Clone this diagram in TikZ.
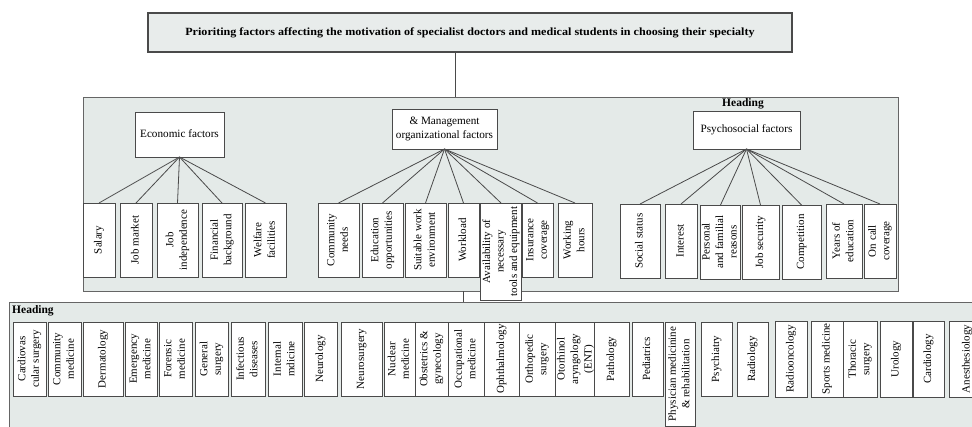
\documentclass[tikz,border=0pt]{standalone}
\usepackage{fontspec}
\setmainfont{Liberation Serif}
\usepackage{graphicx}
\definecolor{panelfill}{HTML}{E4EAE8}
\definecolor{titlefill}{HTML}{E8ECEB}
\definecolor{edgecol}{HTML}{4A4A4A}
\tikzset{
  box/.style={draw=edgecol, line width=0.9pt, fill=white, inner sep=0pt, outer sep=0pt, align=center, font=\fontsize{11}{13.5}\selectfont},
  parentbox/.style={box, font=\fontsize{11.2}{13.5}\selectfont},
  titlebox/.style={draw=edgecol, line width=1.2pt, fill=titlefill, inner sep=0pt, align=center, font=\bfseries\fontsize{11}{13}\selectfont},
  panel/.style={draw=edgecol!85, line width=0.8pt, fill=panelfill, inner sep=0pt},
  headtext/.style={inner sep=0pt, font=\bfseries\fontsize{11.5}{13}\selectfont},
  link/.style={draw=edgecol, line width=0.8pt},
}
\newcommand\lf[6]{\node[box, minimum width={(#3-#2)*1pt}, minimum height={(#5-#4)*1pt}] (#1) at ({(#2+#3)/2},{(#4+#5)/2}) {\rotatebox{90}{\begin{tabular}{@{}c@{}}#6\end{tabular}}};}
\newcommand\pb[6]{\node[parentbox, minimum width={(#3-#2)*1pt}, minimum height={(#5-#4)*1pt}] (#1) at ({(#2+#3)/2},{(#4+#5)/2}) {\begin{tabular}{@{}c@{}}#6\end{tabular}};}
\begin{document}
\begin{tikzpicture}[x=1pt,y=-1pt]
\clip (0,0) rectangle (972,427);
\fill[white] (0,0) rectangle (972,427);
% title
\node[titlebox, minimum width=644pt, minimum height=39pt] (title) at (470,32.5) {\scalebox{1.1}[1]{Prioriting factors affecting the motivation of specialist doctors and medical students in choosing their specialty}};
% panels
\node[panel, minimum width=815pt, minimum height=194pt] (mid) at (490.5,194) {};
\node[panel, minimum width=976pt, minimum height=138pt] (bot) at (497,371) {};
\coordinate (c1) at (455,0);
\coordinate (c2) at (463,0);
\draw[link] (title.south -| c1) -- (mid.north -| c1);
\draw[link] (mid.south -| c2) -- (bot.north -| c2);
\node[headtext] (h1) at (743,104) {Heading};
\node[headtext, anchor=west] (h2) at (12,311) {Heading};
% parents
\pb{econ}{135}{224}{112}{157}{Economic factors}
\pb{mgmt}{392}{497}{109}{149}{\& Management\\organizational factors}
\pb{psy}{693}{800}{111}{149}{Psychosocial factors}
% economic leaves
\lf{salary}{83}{115}{203}{277}{Salary}
\lf{jobmarket}{120}{152}{203}{277}{Job market}
\lf{jobind}{157}{198}{203}{277}{Job\\independence}
\lf{finback}{202}{242}{203}{277}{Financial\\background}
\lf{welfare}{245}{286}{203}{277}{Welfare\\facilities}
% management leaves
\lf{commneeds}{318}{359}{203}{277}{Community\\needs}
\lf{eduopp}{362}{403}{203}{277}{Education\\opportunities}
\lf{suitable}{405}{446}{203}{277}{Suitable work\\environment}
\lf{workload}{448}{479}{203}{277}{Workload}
\lf{avail}{481}{521}{203}{300}{Availability of\\necessary\\tools and equipment}
\lf{insur}{522}{553}{203}{277}{Insurance\\coverage}
\lf{workhours}{558}{592}{203}{277}{Working\\hours}
% psychosocial leaves
\lf{social}{620}{660}{204}{278}{Social status}
\lf{interest}{665}{697}{204}{278}{Interest}
\lf{personal}{702}{739}{205}{279}{Personal\\and familial\\reasons}
\lf{jobsec}{742}{779}{205}{279}{Job security}
\lf{compet}{782}{821}{205}{279}{Competition}
\lf{years}{826}{862}{204}{278}{Years of\\education}
\lf{oncall}{864}{896}{204}{278}{On call\\coverage}
% edges
\foreach \n in {salary,jobmarket,jobind,finback,welfare} \draw[link] (econ.south) -- (\n.north);
\foreach \n in {commneeds,eduopp,suitable,workload,avail,insur,workhours} \draw[link] (mgmt.south) -- (\n.north);
\foreach \n in {social,interest,personal,jobsec,compet,years,oncall} \draw[link] (psy.south) -- (\n.north);
% bottom leaves
\lf{cardiovas}{13}{46}{322}{396}{Cardiovas\\cular surgery}
\lf{commmed}{48}{81}{322}{396}{Community\\medicine}
\lf{derma}{83}{123}{322}{396}{Dermatology}
\lf{emerg}{125}{157}{322}{396}{Emergency\\medicine}
\lf{forensic}{159}{192}{322}{396}{Forensic\\medicine}
\lf{gensurg}{195}{228}{322}{396}{General\\surgery}
\lf{infect}{231}{265}{322}{396}{Infectious\\diseases}
\lf{internal}{268}{302}{322}{396}{Internal\\mdicine}
\lf{neurol}{304}{337}{322}{396}{Neurology}
\lf{neurosurg}{341}{382}{322}{396}{Neurosurgery}
\lf{nuclear}{384}{415}{322}{396}{Nuclear\\medicine}
\lf{obstet}{415}{448}{322}{396}{Obstetrics \&\\gynecology}
\lf{occup}{448}{484}{322}{396}{Occupational\\medicine}
\lf{ophth}{484}{519}{322}{396}{Ophthalmology}
\lf{ortho}{519}{555}{322}{396}{Orthopedic\\surgery}
\lf{ent}{558}{593}{322}{396}{Otorhinol\\aryngology\\(ENT)}
\lf{patho}{594}{629}{322}{396}{Pathology}
\lf{pedia}{632}{663}{322}{396}{Pediatrics}
\lf{physmed}{665}{695}{322}{426}{Physician medicinine\\\& rehabilitation}
\lf{psych}{701}{732}{322}{396}{Psychiatry}
\lf{radio}{737}{768}{322}{396}{Radiology}
\lf{radonc}{775}{807}{321}{397}{Radiooncology}
\lf{sports}{811}{843}{321}{397}{Sports medicine}
\lf{thoracic}{843}{877}{321}{397}{Thoracic\\surgery}
\lf{urol}{880}{912}{321}{397}{Urology}
\lf{cardio}{913}{944}{321}{397}{Cardiology}
\lf{anest}{949}{985}{321}{397}{Anesthesiology}
\end{tikzpicture}
\end{document}
